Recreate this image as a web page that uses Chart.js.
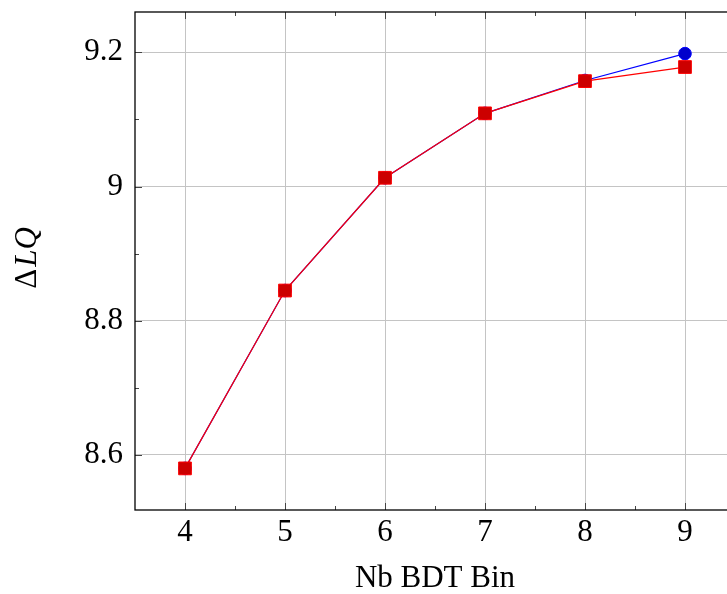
<!DOCTYPE html>
<html>
<head>
<meta charset="utf-8">
<script src="https://cdn.jsdelivr.net/npm/chart.js@4"></script>
<style>
    html, body { margin: 0; padding: 0; background: #fff; }
    #wrap { width: 727px; height: 594px; overflow: hidden; }
</style>
</head>
<body>
<div id="wrap"><canvas id="lqChart" width="760" height="594"></canvas></div>
<script>
const bins = [4, 5, 6, 7, 8, 9];
const blueVals = [8.580, 8.845, 9.013, 9.109, 9.158, 9.198];
const redVals = [8.580, 8.845, 9.013, 9.109, 9.157, 9.178];
const xTicks = [4, 5, 6, 7, 8, 9];
const xMinor = [4.5, 5.5, 6.5, 7.5, 8.5, 9.5];
const yTicks = [8.6, 8.8, 9.0, 9.2];
const yMinor = [8.7, 8.9, 9.1];

const serif = "'Liberation Serif', 'DejaVu Serif', serif";
const fs = 31;

// frame, inward ticks and the mixed-style y label
const framePlugin = {
    id: 'frame',
    afterDatasetsDraw(chart) {
        const ctx = chart.ctx;
        const a = chart.chartArea;
        const xs = chart.scales.x, ys = chart.scales.y;
        ctx.save();
        ctx.strokeStyle = '#444';
        ctx.lineWidth = 1;
        const tick = (px, len, vertical) => {
            ctx.beginPath();
            if (vertical) {
                ctx.moveTo(px, a.bottom); ctx.lineTo(px, a.bottom - len);
                ctx.moveTo(px, a.top); ctx.lineTo(px, a.top + len);
            } else {
                ctx.moveTo(a.left, px); ctx.lineTo(a.left + len, px);
                ctx.moveTo(a.right, px); ctx.lineTo(a.right - len, px);
            }
            ctx.stroke();
        };
        xTicks.forEach(v => tick(Math.round(xs.getPixelForValue(v)) + 0.5, 7, true));
        xMinor.forEach(v => tick(Math.round(xs.getPixelForValue(v)) + 0.5, 4, true));
        yTicks.forEach(v => tick(Math.round(ys.getPixelForValue(v)) + 0.5, 7, false));
        yMinor.forEach(v => tick(Math.round(ys.getPixelForValue(v)) + 0.5, 4, false));

        ctx.strokeStyle = '#000';
        ctx.lineWidth = 1.3;
        ctx.strokeRect(a.left, a.top, a.right - a.left, a.bottom - a.top);

        // y title: upright delta, italic L Q
        ctx.translate(28, (a.top + a.bottom) / 2 - 3);
        ctx.rotate(-Math.PI / 2);
        ctx.fillStyle = '#000';
        ctx.textBaseline = 'middle';
        ctx.textAlign = 'left';
        ctx.font = fs + 'px ' + serif;
        const w1 = ctx.measureText('Δ').width;
        ctx.font = 'italic ' + fs + 'px ' + serif;
        const w2 = ctx.measureText('LQ').width + 2;
        const x0 = -(w1 + w2) / 2;
        ctx.font = fs + 'px ' + serif;
        ctx.fillText('Δ', x0, 0);
        ctx.font = 'italic ' + fs + 'px ' + serif;
        ctx.fillText('LQ', x0 + w1 + 2, 0);
        ctx.restore();
    }
};

new Chart(document.getElementById('lqChart').getContext('2d'), {
    type: 'line',
    data: {
        datasets: [
            {
                label: 'blue',
                order: 2,
                data: bins.map((b, i) => ({ x: b, y: blueVals[i] })),
                borderColor: '#0000ff',
                borderWidth: 1.2,
                pointStyle: 'circle',
                pointRadius: 6.3,
                pointBackgroundColor: '#0000cc',
                pointBorderColor: '#0000ff',
                pointBorderWidth: 1,
                fill: false,
                tension: 0
            },
            {
                label: 'red',
                order: 1,
                data: bins.map((b, i) => ({ x: b, y: redVals[i] })),
                borderColor: '#ff0000',
                borderWidth: 1.2,
                pointStyle: 'rect',
                pointRadius: 9,
                pointBackgroundColor: '#cc0000',
                pointBorderColor: '#ff0000',
                pointBorderWidth: 1,
                fill: false,
                tension: 0
            }
        ]
    },
    options: {
        responsive: false,
        animation: false,
        layout: { padding: { top: 12, right: 25, bottom: 0, left: 0 } },
        plugins: { legend: { display: false }, tooltip: { enabled: false } },
        scales: {
            x: {
                type: 'linear',
                min: 3.5,
                max: 9.5,
                afterBuildTicks: s => { s.ticks = xTicks.map(v => ({ value: v })); },
                afterFit: s => { s.height = 84; s.paddingLeft = 0; s.paddingRight = 0; },
                grid: { color: '#c4c4c4', lineWidth: 1, drawTicks: false },
                border: { display: false },
                ticks: { color: '#000', padding: 4, maxRotation: 0, font: { family: serif, size: fs } },
                title: {
                    display: true,
                    text: 'Nb BDT Bin',
                    color: '#000',
                    font: { family: serif, size: fs, lineHeight: 1.0 },
                    padding: { top: 0, bottom: 0 }
                }
            },
            y: {
                type: 'linear',
                min: 8.518,
                max: 9.26,
                afterBuildTicks: s => { s.ticks = yTicks.map(v => ({ value: v })); },
                afterFit: s => { s.width = 135; s.paddingTop = 0; s.paddingBottom = 0; },
                grid: { color: '#c4c4c4', lineWidth: 1, drawTicks: false },
                border: { display: false },
                ticks: {
                    color: '#000',
                    padding: 12,
                    font: { family: serif, size: fs },
                    callback: v => String(Math.round(v * 10) / 10)
                }
            }
        }
    },
    plugins: [framePlugin]
});
</script>
</body>
</html>
